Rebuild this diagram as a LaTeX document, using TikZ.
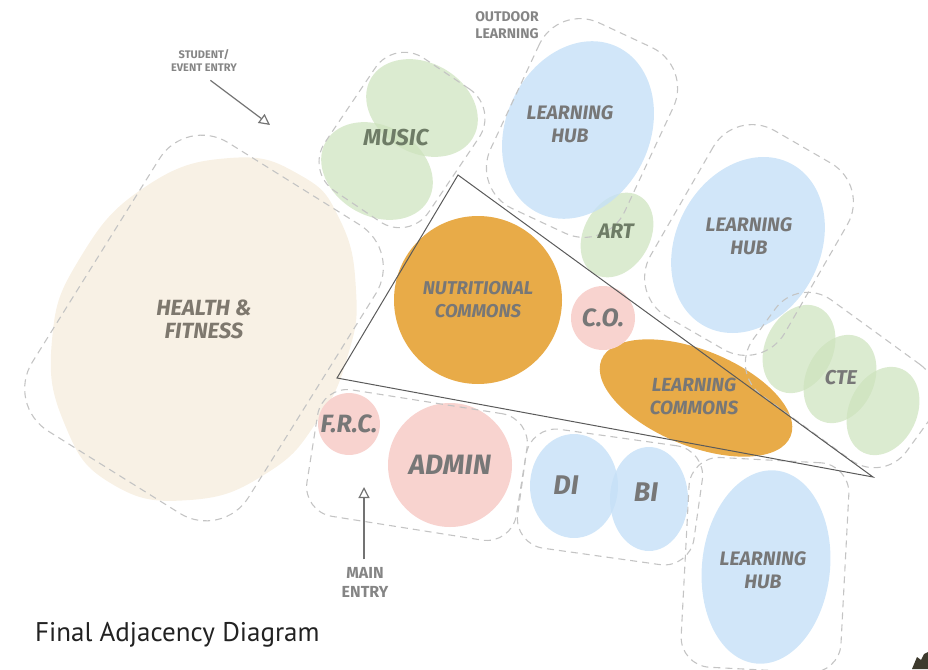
\documentclass[tikz,border=0pt]{standalone}
\usepackage{fontspec}
\newfontfamily\labelfont{Fira Sans}
\newfontfamily\titlefont{PT Sans}
\usetikzlibrary{positioning,arrows.meta,shapes.geometric}

\definecolor{creamfill}{HTML}{F8F1E5}
\definecolor{greenfill}{HTML}{CCE2BC}
\definecolor{bluefill}{HTML}{C6E0F7}
\definecolor{orangefill}{HTML}{E8AB48}
\definecolor{pinkfill}{HTML}{F8D3CF}
\definecolor{dashgray}{HTML}{C4C4C4}
\definecolor{labelgray}{HTML}{777777}
\definecolor{musicgreen}{HTML}{6E7C66}
\definecolor{healthgray}{HTML}{7E786E}
\definecolor{linegray}{HTML}{5A5A5A}
\definecolor{titleblack}{HTML}{222222}

\tikzset{
  group/.style={draw=dashgray, line width=1.1pt, dash pattern=on 7pt off 5pt,
    rectangle, rounded corners=#1, inner sep=0pt},
  group/.default=40pt,
  blob/.style={ellipse, inner sep=0pt, draw=none},
  room/.style={font=\labelfont\bfseries\itshape\fontsize{#1}{23}\selectfont,
    text=labelgray, align=center, inner sep=1pt},
  entry/.style 2 args={font=\labelfont\bfseries\fontsize{#1}{#2}\selectfont,
    text=labelgray!90, align=center},
  way/.style={draw=linegray!85, line width=1.2pt,
    -{Triangle[open, length=11pt, width=11pt, line width=1.2pt]}}
}

\begin{document}
\begin{tikzpicture}[x=1pt, y=-1pt]
  \useasboundingbox (0,0) rectangle (928,669);

  % health and fitness
  \fill[creamfill] plot[smooth cycle, tension=0.8] coordinates {
    (230,158) (300,175) (340,220) (356,290) (348,355) (318,420) (267,473)
    (190,500) (112,484) (65,425) (52,340) (80,258) (145,187)};

  % music, art, cte
  \begin{scope}[fill opacity=0.7]
    \node[blob, fill=greenfill, minimum width=118pt, minimum height=90pt, rotate=-30] (musicA) at (422,108) {};
    \node[blob, fill=greenfill, minimum width=118pt, minimum height=90pt, rotate=-30] (musicB) at (377,171) {};
    \node[blob, fill=greenfill, minimum width=90pt, minimum height=66pt, rotate=60] (artshape) at (617,235) {};
    \foreach \cx/\cy [count=\i] in {799/349, 840/379, 883/411}
      \node[blob, fill=greenfill, minimum width=92pt, minimum height=68pt, rotate=65] (cte\i) at (\cx,\cy) {};
  \end{scope}

  % learning hubs
  \begin{scope}[fill opacity=0.8]
    \node[blob, fill=bluefill, minimum width=184pt, minimum height=144pt, rotate=65] (hubAshape) at (578,130) {};
    \node[blob, fill=bluefill, minimum width=184pt, minimum height=144pt, rotate=62] (hubBshape) at (748,245) {};
    \node[blob, fill=bluefill, minimum width=194pt, minimum height=128pt, rotate=84] (hubCshape) at (766,567) {};
    \node[blob, fill=bluefill, minimum width=88pt, minimum height=104pt] (dishape) at (574,486) {};
    \node[blob, fill=bluefill, minimum width=78pt, minimum height=104pt] (bishape) at (649,499) {};
  \end{scope}

  % commons
  \node[circle, fill=orangefill, minimum size=168pt, room=18.5] (nutri) at (478,300) {NUTRITIONAL\\COMMONS};
  \node[blob, fill=orangefill, minimum width=204pt, minimum height=96pt, rotate=-22] (lcshape) at (696,398) {};

  % pink rooms
  \node[circle, fill=pinkfill, minimum size=64pt, room=25] (co) at (603,318) {C.O.};
  \node[circle, fill=pinkfill, minimum size=60pt, room=25] (frc) at (349,424) {F.R.C.};
  \node[circle, fill=pinkfill, minimum size=124pt, room=28] (admin) at (450,465) {ADMIN};

  % dashed groupings
  \node[group=50pt, minimum width=255pt, minimum height=340pt, rotate=-32] (healthgrp) at (204,328) {};
  \node[group=35pt, minimum width=125pt, minimum height=160pt, rotate=-34] (musicgrp) at (402,140) {};
  \node[group=45pt, minimum width=205pt, minimum height=148pt, rotate=65] (hubAgrp) at (582,128) {};
  \node[group=45pt, minimum width=215pt, minimum height=155pt, rotate=60] (hubBgrp) at (749,240) {};
  \node[group=40pt, minimum width=190pt, minimum height=118pt, rotate=-36] (ctegrp) at (841,380) {};
  \node[group=30pt, minimum width=212pt, minimum height=128pt, rotate=-9] (admingrp) at (417,465) {};
  \node[group=30pt, minimum width=178pt, minimum height=120pt, rotate=-8] (dbgrp) at (610,497) {};
  \node[group=30pt, minimum width=160pt, minimum height=210pt, rotate=-3] (hubCgrp) at (765,565) {};

  % core triangle
  \coordinate (triA) at (458,175);
  \coordinate (triB) at (337,378);
  \coordinate (triC) at (873,477);
  \draw[linegray, line width=1pt] (triA) -- (triB) -- (triC) -- cycle;

  % room labels
  \node[room=22, text=healthgray] (health) at (204,319) {HEALTH \&\\FITNESS};
  \node[room=23, text=musicgreen] (music) at (396,138) {MUSIC};
  \node[room=21, text=musicgreen] (art) at (616,231) {ART};
  \node[room=19.5] (hubA) at (570,124) {LEARNING\\HUB};
  \node[room=19.5] (hubB) at (749,236) {LEARNING\\HUB};
  \node[room=19.5] (hubC) at (763,570) {LEARNING\\HUB};
  \node[room=19] (lc) at (694,396) {LEARNING\\COMMONS};
  \node[room=20] (cte) at (841,378) {CTE};
  \node[room=27] (di) at (566,485) {DI};
  \node[room=27] (bi) at (646,492) {BI};

  % entries
  \node[entry={11}{13}] (student) at (204,61) {STUDENT/\\EVENT ENTRY};
  \coordinate (studentdoor) at (270,125);
  \draw[way, shorten <=8pt] (student.south) -- (studentdoor);

  \node[entry={14}{17}] (outdoor) at (507,25) {OUTDOOR\\LEARNING};

  \node[entry={16}{19}] (mainentry) at (365,582) {MAIN\\ENTRY};
  \coordinate (maindoor) at (364,487);
  \draw[way, shorten <=4pt] (mainentry.north -| maindoor) -- (maindoor);

  % caption
  \node[font=\titlefont\fontsize{27}{31}\selectfont, text=titleblack, anchor=base west, inner sep=0pt] (title) at (35,641) {Final Adjacency Diagram};

  % corner mark
  \fill[black!75!olive] (912,669) -- (917,657) -- (921,660) -- (924,654) -- (928,652) -- (928,669) -- cycle;
\end{tikzpicture}
\end{document}
